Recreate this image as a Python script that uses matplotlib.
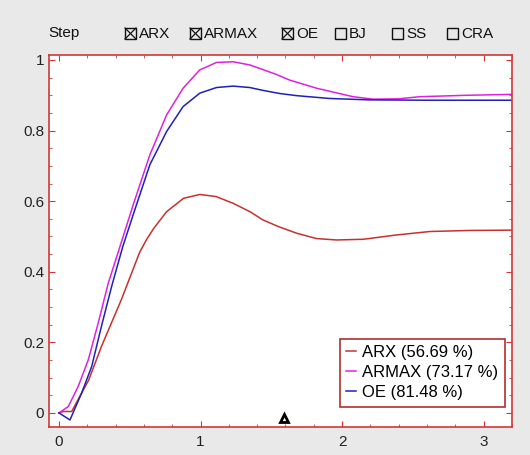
import numpy as np
import matplotlib
matplotlib.use("Agg")
import matplotlib.pyplot as plt
from matplotlib.patches import Rectangle
from matplotlib.lines import Line2D
from matplotlib.ticker import MultipleLocator

plt.rcParams['font.family'] = ['Liberation Sans', 'DejaVu Sans']

#%% data
t_arx = [0.0, 0.03, 0.09, 0.21, 0.30, 0.44, 0.57, 0.62, 0.67, 0.76, 0.88, 0.995, 1.11, 1.23, 1.35,
         1.44, 1.55, 1.68, 1.82, 1.96, 2.15, 2.38, 2.62, 2.9, 3.25]
y_arx = [0.0, 0.004, 0.004, 0.093, 0.188, 0.32, 0.455, 0.492, 0.523, 0.57, 0.608, 0.619, 0.613, 0.594, 0.570,
         0.547, 0.528, 0.509, 0.494, 0.49, 0.492, 0.504, 0.514, 0.517, 0.518]

t_armax = [0.0, 0.066, 0.136, 0.207, 0.277, 0.348, 0.43, 0.524, 0.642, 0.76, 0.877, 0.995, 1.113, 1.23,
           1.348, 1.418, 1.53, 1.63, 1.82, 2.077, 2.218, 2.4, 2.55, 2.88, 3.25]
y_armax = [0.0, 0.018, 0.075, 0.15, 0.254, 0.367, 0.47, 0.589, 0.731, 0.844, 0.920, 0.972, 0.993, 0.995,
           0.986, 0.976, 0.96, 0.943, 0.92, 0.896, 0.889, 0.89, 0.896, 0.90, 0.903]

t_oe = [0.0, 0.078, 0.16, 0.231, 0.30, 0.372, 0.45, 0.524, 0.642, 0.76, 0.877, 0.995, 1.113, 1.23,
        1.348, 1.44, 1.56, 1.678, 1.91, 2.19, 2.6, 3.25]
y_oe = [0.0, -0.02, 0.056, 0.131, 0.245, 0.358, 0.47, 0.561, 0.703, 0.797, 0.868, 0.906, 0.922, 0.926,
        0.922, 0.914, 0.905, 0.899, 0.891, 0.887, 0.886, 0.886]

labels = ['ARX (56.69 %)', 'ARMAX (73.17 %)', 'OE (81.48 %)']
models = ['ARX', 'ARMAX', 'OE', 'BJ', 'SS', 'CRA']
checked = [True, True, True, False, False, False]
marker_t, marker_y = 1.59, -0.014

#%% figure
fig = plt.figure(figsize=(5.3, 4.55), dpi=100, facecolor='#e9e9e9')
ax = fig.add_axes([0.0925, 0.0615, 0.8735, 0.8175])
ax.set_facecolor('white')

ax.plot(t_arx, y_arx, color='#c83030', lw=1.1, label=labels[0])
ax.plot(t_armax, y_armax, color='#e020e0', lw=1.1, label=labels[1])
ax.plot(t_oe, y_oe, color='#2020b8', lw=1.1, label=labels[2])
ax.plot([marker_t], [marker_y], marker='^', ms=5.5, mfc='white', mec='black', mew=2, ls='none')

ax.set_xlim(-0.07, 3.2)
ax.set_ylim(-0.04, 1.014)
ax.xaxis.set_major_locator(MultipleLocator(1))
ax.xaxis.set_minor_locator(MultipleLocator(0.2))
ax.yaxis.set_major_locator(MultipleLocator(0.2))
ax.yaxis.set_minor_locator(MultipleLocator(0.05))
ax.yaxis.set_major_formatter(plt.FuncFormatter(lambda v, p: '%g' % round(v, 2)))

for s in ax.spines.values():
    s.set_color('#d03838')
    s.set_linewidth(1.2)
ax.tick_params(which='both', direction='in', colors='#d03838', labelcolor='#222222',
               top=True, right=True, labelsize=11)
ax.tick_params(which='major', length=4)
ax.tick_params(which='minor', length=2.5)
ax.tick_params(axis='x', pad=6)

leg = ax.legend(loc='lower right', bbox_to_anchor=(0.985, 0.054), borderaxespad=0, fontsize=12,
                handlelength=0.55, handletextpad=0.4, borderpad=0.4, labelspacing=0.3,
                fancybox=False, framealpha=1, edgecolor='#b03030')
leg.get_frame().set_linewidth(1.2)

#%% header with checkboxes
fig.text(48 / 530, 1 - 33 / 455, 'Step', fontsize=11, va='center', ha='left', color='#111111')
box_x = [125, 190, 282, 335, 392, 447]
for bx, name, on in zip(box_x, models, checked):
    x0 = bx / 530
    y0 = 1 - 39 / 455
    w, h = 11 / 530, 11 / 455
    fig.patches.append(Rectangle((x0, y0), w, h, transform=fig.transFigure,
                                 fill=False, ec='#111111', lw=1.0))
    if on:
        fig.lines.append(Line2D([x0, x0 + w], [y0, y0 + h], transform=fig.transFigure, color='#111111', lw=0.9))
        fig.lines.append(Line2D([x0, x0 + w], [y0 + h, y0], transform=fig.transFigure, color='#111111', lw=0.9))
    fig.text((bx + 14) / 530, 1 - 33.5 / 455, name, fontsize=11, va='center', ha='left', color='#111111')

fig.savefig('out.png', dpi=100, facecolor=fig.get_facecolor())
